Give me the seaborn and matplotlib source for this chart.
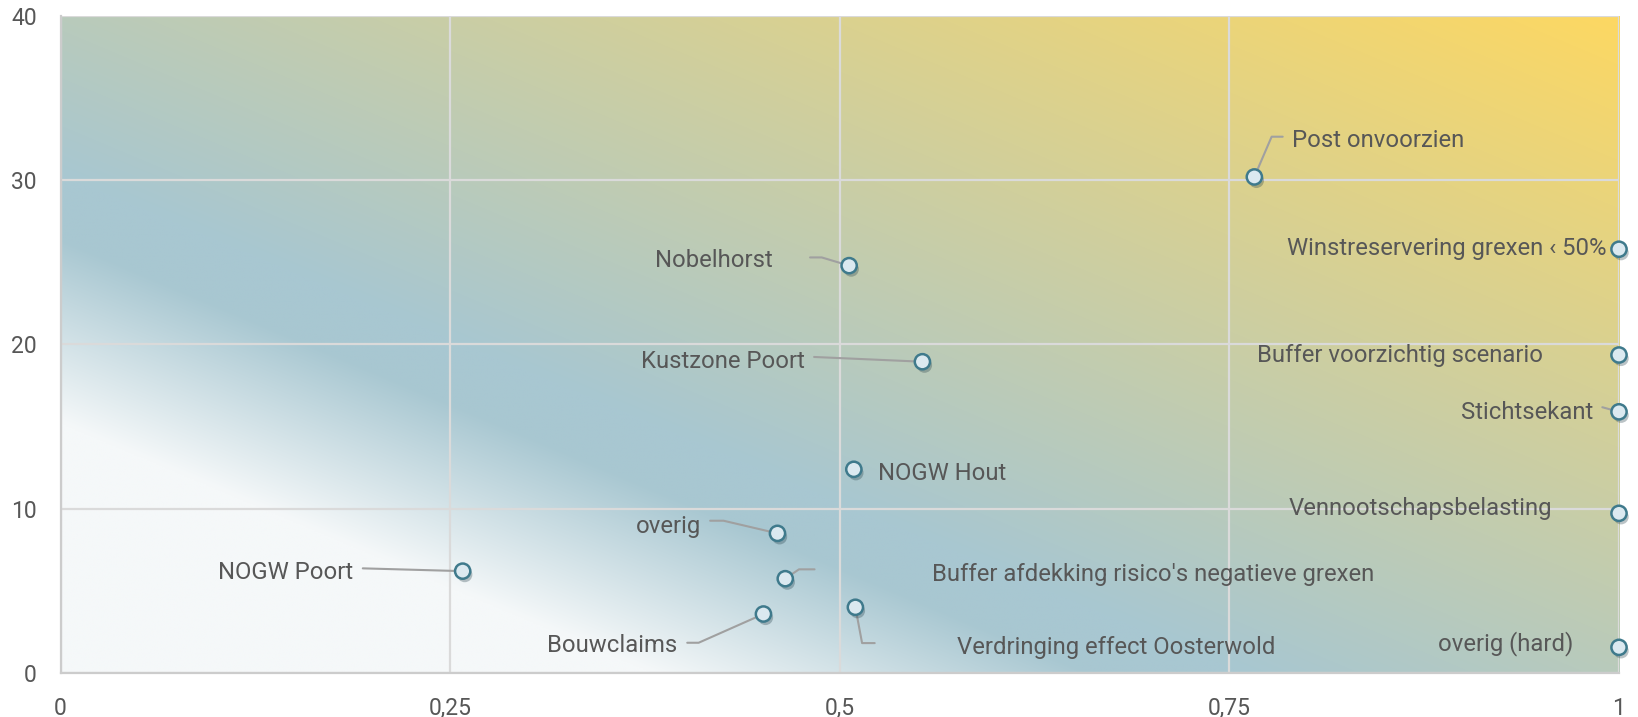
import matplotlib
matplotlib.use("Agg")
import matplotlib.pyplot as plt
import matplotlib.patheffects as pe
import seaborn as sns
import numpy as np
import pandas as pd

# data
names = ["Post onvoorzien", "Winstreservering grexen \u2039 50%", "Nobelhorst",
         "Buffer voorzichtig scenario", "Kustzone Poort", "Stichtsekant", "NOGW Hout",
         "Vennootschapsbelasting", "overig", "NOGW Poort",
         "Buffer afdekking risico's negatieve grexen", "Verdringing effect Oosterwold",
         "Bouwclaims", "overig (hard)"]
x_vals = [0.766, 1.0, 0.506, 1.0, 0.553, 1.0, 0.509, 1.0, 0.460, 0.258, 0.465, 0.510, 0.451, 1.0]
y_vals = [30.2, 25.8, 24.8, 19.36, 18.95, 15.9, 12.4, 9.72, 8.5, 6.2, 5.74, 4.0, 3.59, 1.56]
x_ticks = [0, 0.25, 0.5, 0.75, 1]
x_tick_labels = ["0", "0,25", "0,5", "0,75", "1"]
y_ticks = [0, 10, 20, 30, 40]

# label placement (text anchor at cap centre, alignment, leader elbows)
label_pos = [(0.790, 32.55), (0.9921, 25.95), (0.457, 25.23), (0.7675, 19.46),
             (0.4777, 19.06), (0.9835, 16.01), (0.5243, 12.24), (0.7878, 10.13),
             (0.4109, 9.07), (0.1876, 6.25), (0.559, 6.15), (0.5754, 1.66),
             (0.396, 1.80), (0.9707, 1.88)]
label_ha = ["left", "right", "right", "left", "right", "right", "left", "left",
            "right", "right", "left", "left", "right", "right"]
leaders = [[(0.7842, 32.65), (0.7771, 32.65)], [], [(0.4809, 25.3), (0.4884, 25.3)], [],
           [(0.4835, 19.24)], [(0.9893, 16.18)], [], [],
           [(0.4168, 9.27), (0.4254, 9.27)], [(0.1939, 6.37)],
           [(0.4838, 6.31), (0.4738, 6.31)], [(0.5224, 1.82), (0.5143, 1.82)],
           [(0.4021, 1.84), (0.4094, 1.84)], []]

df = pd.DataFrame({"name": names, "x": x_vals, "y": y_vals})

sns.set_style("white")
plt.rcParams["font.family"] = ["Roboto", "DejaVu Sans"]
text_color = "#575757"

fig = plt.figure(figsize=(16.38, 7.17), dpi=100)
ax = fig.add_axes([0.037, 0.0614, 0.9514, 0.9163])
ax.set_xlim(0, 1)
ax.set_ylim(0, 40)

# diagonal gradient background: white -> blue -> yellow
n = 500
xf, yf = np.meshgrid(np.linspace(0, 1, n), np.linspace(0, 1, n))
u = xf + yf
blue = np.array([168, 199, 209]) / 255
yellow = np.array([253, 216, 98]) / 255
white = np.array([245, 248, 249]) / 255
t = np.clip((u - 0.76) / 1.24, 0, 1)[..., None]
base = blue + t * (yellow - blue)
a = np.clip((0.66 - u) / 0.28, 0, 1)[..., None]
img = base * (1 - a) + white * a
ax.imshow(img, origin="lower", extent=(0, 1, 0, 40), aspect="auto",
          interpolation="bilinear", zorder=-2)

ax.set_axisbelow(True)
ax.grid(True, color="#dadada", linewidth=1.6)
for s in ["top", "right"]:
    ax.spines[s].set_visible(False)
for s in ["left", "bottom"]:
    ax.spines[s].set_color("#cccccc")
    ax.spines[s].set_linewidth(1.6)

ax.set_xticks(x_ticks)
ax.set_xticklabels(x_tick_labels)
ax.set_yticks(y_ticks)
ax.tick_params(axis="both", length=0, labelsize=16.5, labelcolor=text_color)
ax.tick_params(axis="y", pad=17)
ax.tick_params(axis="x", pad=17)

# leader lines
for (px, py), elbows in zip(zip(x_vals, y_vals), leaders):
    if elbows:
        pts = elbows + [(px, py)]
        ax.plot([p[0] for p in pts], [p[1] for p in pts], color="#a0a0a0",
                linewidth=1.5, zorder=3, clip_on=False)

sns.scatterplot(data=df, x="x", y="y", ax=ax, s=120, color="#dbe9f0",
                edgecolor="#3f7a8c", linewidth=1.8, zorder=5, clip_on=False,
                legend=False)
ax.collections[-1].set_path_effects([
    pe.SimplePatchShadow(offset=(1.5, -2.5), shadow_rgbFace="#1f3a44", alpha=0.3),
    pe.Normal()])

# labels: positions are cap centres, shift to baseline
for name, (tx, ty), ha in zip(names, label_pos, label_ha):
    ax.text(tx, ty - 0.52, name, ha=ha, va="baseline", fontsize=17.2,
            color=text_color, zorder=6)

ax.set_xlabel("")
ax.set_ylabel("")
fig.savefig("out.png", dpi=100)
